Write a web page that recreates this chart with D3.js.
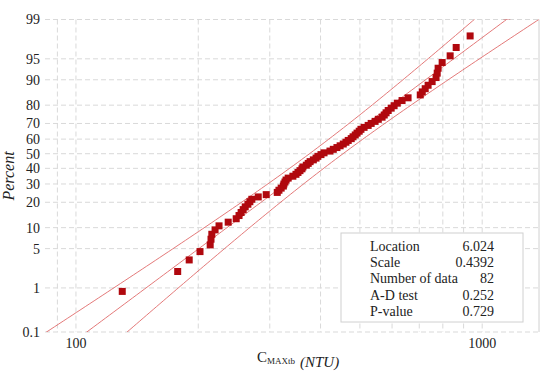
<!DOCTYPE html>
<html>
<head>
<meta charset="utf-8">
<script src="https://cdn.jsdelivr.net/npm/d3@7"></script>
<style>
  body { margin: 0; background: #fff; }
</style>
</head>
<body>
<div id="chart"></div>
<script>
const values = [130, 178, 190, 202, 214, 215, 216, 220, 225, 237,
  248, 252, 255, 258, 261, 265, 268, 271, 281, 294,
  313, 316, 320, 324, 325, 327, 329, 333, 342, 348,
  352, 356, 360, 362, 369, 373, 377, 384, 390, 394,
  401, 408, 422, 430, 439, 447, 455, 462, 468, 476,
  481, 487, 492, 498, 503, 512, 524, 533, 545, 555,
  567, 574, 580, 587, 597, 607, 618, 635, 657, 704,
  712, 724, 736, 753, 770, 775, 779, 797, 834, 863,
  934, 1150];

// Plotting positions (percent) for each rank
const percents = [0.85, 2.06, 3.28, 4.49, 5.70, 6.92, 8.13, 9.34, 10.56, 11.77,
  12.99, 14.20, 15.41, 16.63, 17.84, 19.05, 20.27, 21.48, 22.69, 23.91,
  25.12, 26.33, 27.55, 28.76, 29.98, 31.19, 32.40, 33.62, 34.83, 36.04,
  37.26, 38.47, 39.68, 40.90, 42.11, 43.33, 44.54, 45.75, 46.97, 48.18,
  49.39, 50.61, 51.82, 53.03, 54.25, 55.46, 56.67, 57.89, 59.10, 60.32,
  61.53, 62.74, 63.96, 65.17, 66.38, 67.60, 68.81, 70.02, 71.24, 72.45,
  73.67, 74.88, 76.09, 77.31, 78.52, 79.73, 80.95, 82.16, 83.37, 84.59,
  85.80, 87.01, 88.23, 89.44, 90.66, 91.87, 93.08, 94.30, 95.51, 96.72,
  97.94, 99.15];

const yTicks = [0.1, 1, 5, 10, 20, 30, 40, 50, 60, 70, 80, 90, 95, 99];
const xTicks = [100, 1000];
const xGrid = [90, 100, 200, 300, 400, 500, 600, 700, 800, 900, 1000];

// Lognormal fit results
const fitLocation = 6.024;
const fitScale = 0.4392;
const nData = 82;
const statLabels = ["Location", "Scale", "Number of data", "A-D test", "P-value"];
const statValues = ["6.024", "0.4392", "82", "0.252", "0.729"];

// inverse normal CDF (Acklam)
function probit(p) {
  const a = [-39.69683028665376, 220.9460984245205, -275.9285104469687, 138.3577518672690, -30.66479806614716, 2.506628277459239];
  const b = [-54.47609879822406, 161.5858368580409, -155.6989798598866, 66.80131188771972, -13.28068155288572];
  const c = [-0.007784894002430293, -0.3223964580411365, -2.400758277161838, -2.549732539343734, 4.374664141464968, 2.938163982698783];
  const d = [0.007784695709041462, 0.3224671290700398, 2.445134137142996, 3.754408661907416];
  const pl = 0.02425;
  let q, r;
  if (p < pl) {
    q = Math.sqrt(-2 * Math.log(p));
    return (((((c[0]*q+c[1])*q+c[2])*q+c[3])*q+c[4])*q+c[5]) / ((((d[0]*q+d[1])*q+d[2])*q+d[3])*q+1);
  } else if (p <= 1 - pl) {
    q = p - 0.5; r = q * q;
    return (((((a[0]*r+a[1])*r+a[2])*r+a[3])*r+a[4])*r+a[5])*q / (((((b[0]*r+b[1])*r+b[2])*r+b[3])*r+b[4])*r+1);
  }
  q = Math.sqrt(-2 * Math.log(1 - p));
  return -(((((c[0]*q+c[1])*q+c[2])*q+c[3])*q+c[4])*q+c[5]) / ((((d[0]*q+d[1])*q+d[2])*q+d[3])*q+1);
}

const W = 550, H = 374;
const plotL = 45, plotR = 539, plotT = 19.5, plotB = 332;

const svg = d3.select("#chart").append("svg")
  .attr("width", W).attr("height", H)
  .attr("font-family", "'Liberation Serif', 'Times New Roman', serif")
  .attr("fill", "#222");

const x = d3.scaleLog().domain([83.9, 1380]).range([plotL, plotR]);
const zScale = d3.scaleLinear().domain([probit(0.001), probit(0.99)]).range([plotB, plotT]);
const y = p => zScale(probit(p / 100));

// grid
const grid = svg.append("g").attr("stroke", "#d9d9d9").attr("stroke-dasharray", "5,3").attr("stroke-width", 1);
grid.selectAll(".gy").data(yTicks).enter().append("line")
  .attr("x1", plotL).attr("x2", plotR)
  .attr("y1", d => y(d)).attr("y2", d => y(d));
grid.selectAll(".gx").data(xGrid).enter().append("line")
  .attr("x1", d => x(d)).attr("x2", d => x(d))
  .attr("y1", plotT).attr("y2", plotB);
svg.append("line").attr("x1", plotR).attr("x2", plotR).attr("y1", plotT).attr("y2", plotB)
  .attr("stroke", "#d0d0d0");

// tick labels
svg.selectAll(".yl").data(yTicks).enter().append("text")
  .attr("x", 40).attr("y", d => y(d)).attr("dy", "0.35em")
  .attr("text-anchor", "end").attr("font-size", 14).text(d => d);
svg.selectAll(".xl").data(xTicks).enter().append("text")
  .attr("x", d => x(d)).attr("y", 348)
  .attr("text-anchor", "middle").attr("font-size", 14).text(d => d);

// axis titles
svg.append("text").attr("transform", "translate(14,176) rotate(-90)")
  .attr("text-anchor", "middle").attr("font-size", 16).attr("font-style", "italic").text("Percent");
const xt = svg.append("text").attr("x", 257).attr("y", 362).attr("font-size", 15);
xt.append("tspan").text("C");
xt.append("tspan").attr("font-size", 9).attr("dy", 2).text("MAXtb");
xt.append("tspan").attr("font-style", "italic").attr("dx", 5).attr("dy", 3).text("(NTU)");

// clip
svg.append("clipPath").attr("id", "plot-clip").append("rect")
  .attr("x", plotL).attr("y", plotT).attr("width", plotR - plotL).attr("height", plotB - plotT);
const plot = svg.append("g").attr("clip-path", "url(#plot-clip)");

// fitted line and 95% confidence bands
const zs = d3.range(-3.3, 2.6, 0.05);
const se = z => fitScale * Math.sqrt(1 / nData + z * z / (2 * nData));
const line = d3.line().x(d => x(Math.exp(d[0]))).y(d => zScale(d[1]));
[0, -1.96, 1.96].forEach(k => {
  plot.append("path")
    .attr("d", line(zs.map(z => [fitLocation + fitScale * z + k * se(z), z])))
    .attr("fill", "none").attr("stroke", "#e06a6a").attr("stroke-width", 0.9);
});

// points
const pts = values.map((v, i) => ({ v: v, p: percents[i] }));
plot.selectAll(".pt").data(pts).enter().append("rect")
  .attr("x", d => x(d.v) - 3.5).attr("y", d => y(d.p) - 3.5)
  .attr("width", 7).attr("height", 7)
  .attr("fill", "#b0080e");

// stats box
const box = svg.append("g");
box.append("rect").attr("x", 341).attr("y", 233).attr("width", 182).attr("height", 89)
  .attr("fill", "#fff").attr("stroke", "#d0d0d0");
box.selectAll(".sl").data(statLabels).enter().append("text")
  .attr("x", 370).attr("y", (d, i) => 246 + i * 16.2).attr("dy", "0.35em")
  .attr("font-size", 14).text(d => d);
box.selectAll(".sv").data(statValues).enter().append("text")
  .attr("x", 494).attr("y", (d, i) => 246 + i * 16.2).attr("dy", "0.35em")
  .attr("text-anchor", "end").attr("font-size", 14).text(d => d);
</script>
</body>
</html>
